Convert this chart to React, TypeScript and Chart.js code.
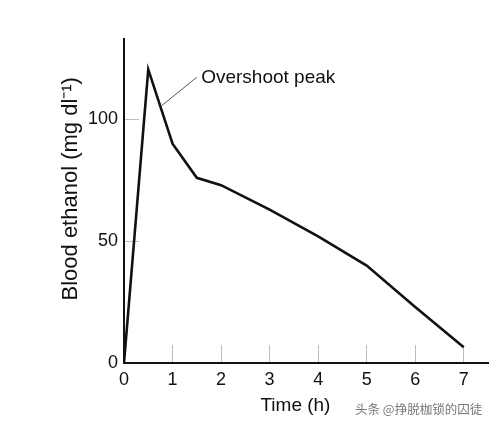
import React, { useEffect, useRef } from "react";
import { Chart, registerables } from "chart.js";

Chart.register(...registerables);

const times = [0, 0.5, 1, 1.5, 2, 3, 4, 5, 6, 7];
const ethanol = [0, 120.5, 90, 76, 73, 63, 52, 40, 23, 6.5];
const xTickValues = [0, 1, 2, 3, 4, 5, 6, 7];
const yTickValues = [0, 50, 100];
const xTitle = "Time (h)";
const yTitle = "Blood ethanol (mg dl\u207B\u00B9)";
const annotationText = "Overshoot peak";
const annotationLine = [
  { x: 0.78, y: 105.7 },
  { x: 1.5, y: 117.3 },
];
const annotationLabelPos = { x: 1.59, y: 117.0 };
const watermark = "头条 @挣脱枷锁的囚徒";

const FONT = "'Liberation Sans', Arial, Helvetica, sans-serif";

const annotationPlugin = {
  id: "overshootAnnotation",
  afterDatasetsDraw(chart: any) {
    const { ctx, scales } = chart;
    const xs = scales.x;
    const ys = scales.y;
    ctx.save();
    ctx.strokeStyle = "#555";
    ctx.lineWidth = 1;
    ctx.beginPath();
    ctx.moveTo(xs.getPixelForValue(annotationLine[0].x), ys.getPixelForValue(annotationLine[0].y));
    ctx.lineTo(xs.getPixelForValue(annotationLine[1].x), ys.getPixelForValue(annotationLine[1].y));
    ctx.stroke();
    ctx.fillStyle = "#111";
    ctx.font = `19px ${FONT}`;
    ctx.textAlign = "left";
    ctx.textBaseline = "middle";
    ctx.fillText(
      annotationText,
      xs.getPixelForValue(annotationLabelPos.x),
      ys.getPixelForValue(annotationLabelPos.y)
    );
    ctx.restore();
  },
};

export default function App() {
  const canvasRef = useRef<HTMLCanvasElement | null>(null);

  useEffect(() => {
    if (!canvasRef.current) return;
    const chart = new Chart(canvasRef.current, {
      type: "line",
      data: {
        datasets: [
          {
            data: times.map((t, i) => ({ x: t, y: ethanol[i] })),
            borderColor: "#111",
            borderWidth: 2.6,
            pointRadius: 0,
            tension: 0,
            fill: false,
          },
        ],
      },
      options: {
        animation: false,
        responsive: false,
        maintainAspectRatio: false,
        layout: { padding: { left: 0, top: 39, right: 7, bottom: 0 } },
        plugins: {
          legend: { display: false },
          tooltip: { enabled: false },
        },
        scales: {
          x: {
            type: "linear",
            min: 0,
            max: 7.5,
            afterFit: (s: any) => {
              s.height = 66;
            },
            afterBuildTicks: (s: any) => {
              s.ticks = xTickValues.map((v) => ({ value: v }));
            },
            border: { display: true, color: "#111", width: 2 },
            grid: {
              drawOnChartArea: false,
              drawTicks: true,
              tickLength: -18,
              color: "#bdbdbd",
              lineWidth: 1,
            },
            ticks: {
              padding: 24,
              color: "#111",
              font: { family: FONT, size: 18 },
              maxRotation: 0,
            },
            title: {
              display: true,
              text: xTitle + "\u00A0\u00A0\u00A0\u00A0",
              color: "#111",
              font: { family: FONT, size: 19 },
              padding: { top: 0, bottom: 12 },
            },
          },
          y: {
            type: "linear",
            min: 0,
            max: 133,
            afterFit: (s: any) => {
              s.width = 124;
            },
            afterBuildTicks: (s: any) => {
              s.ticks = yTickValues.map((v) => ({ value: v }));
            },
            border: { display: true, color: "#111", width: 2 },
            grid: {
              drawOnChartArea: false,
              drawTicks: true,
              tickLength: -15,
              color: "#bdbdbd",
              lineWidth: 1,
            },
            ticks: {
              padding: 21,
              color: "#111",
              font: { family: FONT, size: 18 },
            },
            title: {
              display: true,
              text: "\u00A0\u00A0\u00A0\u00A0" + yTitle,
              color: "#111",
              font: { family: FONT, size: 22 },
              padding: { top: 58, bottom: 0 },
            },
          },
        },
      },
      plugins: [annotationPlugin],
    });
    return () => chart.destroy();
  }, []);

  return (
    <div style={{ position: "fixed", left: 0, top: 0, width: 495, height: 429, background: "#fff" }}>
      <canvas ref={canvasRef} width={495} height={429} style={{ width: 495, height: 429 }} />
      <span
        style={{
          position: "absolute",
          left: 355,
          top: 401,
          fontFamily: "'Noto Sans CJK SC', sans-serif",
          fontSize: 12.5,
          color: "#777",
          whiteSpace: "nowrap",
          lineHeight: "16px",
        }}
      >
        {watermark}
      </span>
    </div>
  );
}
